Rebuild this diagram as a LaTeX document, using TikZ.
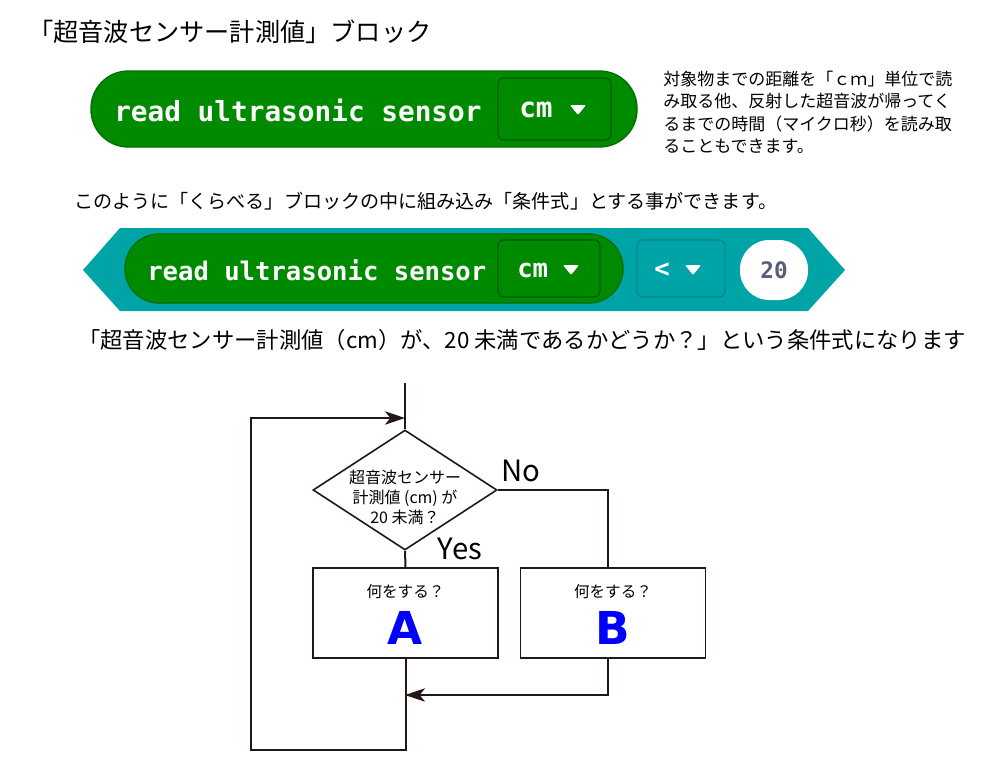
\documentclass[tikz,border=0pt]{standalone}
\usepackage{fontspec}
\usepackage{graphicx}
\setmainfont{Noto Sans CJK JP}
\newfontfamily\jp{Noto Sans CJK JP}
\newfontfamily\blockmono{DejaVu Sans Mono}
\newfontfamily\bigsans{DejaVu Sans}
\usetikzlibrary{shapes.geometric,arrows.meta}
\definecolor{mcgreen}{HTML}{008A00}
\definecolor{mcgreenb}{HTML}{006E00}
\definecolor{mcgreend}{HTML}{005800}
\definecolor{mcteal}{HTML}{00A4A6}
\definecolor{mctealb}{HTML}{00878A}
\definecolor{numtxt}{HTML}{575E75}
\definecolor{ink}{HTML}{231815}
\definecolor{letterblue}{HTML}{0000FF}
\tikzset{
  blocktext/.style={anchor=west, inner sep=0, text=white, font=\blockmono\bfseries\fontsize{#1}{#1}\selectfont},
  ddbox/.style={draw=mcgreend, fill=mcgreen, line width=0.9pt, rounded corners=4.5pt, inner sep=0},
  flowbox/.style={draw=ink, line width=1.2pt, inner sep=0, minimum width=138.75pt, minimum height=67.5pt},
  conn/.style={draw=ink, line width=1.5pt},
  tip/.style={-{Stealth[length=15pt,width=10pt,inset=4pt]}},
  jptext/.style={inner sep=0, font=\jp\fontsize{#1}{#1}\selectfont},
  label/.style={inner sep=0, text=black, font=\jp\fontsize{22}{22}\selectfont},
  bigletter/.style={inner sep=0, text=letterblue, font=\bigsans\bfseries\fontsize{34}{34}\selectfont},
}
\newcommand{\ddtri}[2]{\fill[white, rounded corners=0.8pt] (#1-8,#2-5) -- (#1+8,#2-5) -- (#1,#2+5) -- cycle;}
\begin{document}
\begin{tikzpicture}[x=0.75pt,y=-0.75pt]
\useasboundingbox (0,0) rectangle (1000,768);
\fill[white] (0,0) rectangle (1000,768);

% title
\node[jptext=18.9, anchor=west] (title) at (28,32) {「超音波センサー計測値」ブロック};

% block 1
\node[draw=mcgreenb, fill=mcgreen, line width=1pt, rounded corners=28pt,
      minimum width=409.5pt, minimum height=57pt, inner sep=0] (blk1) at (364,109) {};
\node[ddbox, minimum width=84.75pt, minimum height=46.5pt] (dd1) at (554.5,109) {};
\node[blocktext=20.8] (t1) at (114,110) {read ultrasonic sensor};
\node[blocktext=20.8] (cm1) at (519,110) {cm};
\ddtri{578}{110}

% description
\node[jptext=12.75, anchor=north west, align=left, font=\jp\fontsize{12.75}{16.7}\selectfont] (desc) at (663,71)
  {対象物までの距離を「ｃｍ」単位で読\\み取る他、反射した超音波が帰ってく\\るまでの時間（マイクロ秒）を読み取\\ることもできます。};

% sentence 2
\node[jptext=14.3, anchor=west] (s2) at (74,201) {このように「くらべる」ブロックの中に組み込み「条件式」とする事ができます。};

% block 2
\fill[mcteal] (83,270) -- (120,228) -- (808,228) -- (845,270) -- (808,311) -- (120,311) -- cycle;
\node[draw=mcgreenb, fill=mcgreen, line width=1pt, rounded corners=25.5pt,
      minimum width=373.5pt, minimum height=51.75pt, inner sep=0] (blk2) at (374,268.5) {};
\node[ddbox, minimum width=76.5pt, minimum height=42.75pt] (dd2) at (549,268.5) {};
\node[blocktext=19.2] (t2) at (147,270) {read ultrasonic sensor};
\node[blocktext=19.2] (cm2) at (517,270) {cm};
\ddtri{571}{270}
\node[draw=mctealb, fill=mcteal, line width=0.9pt, rounded corners=4.5pt, inner sep=0,
      minimum width=66pt, minimum height=42.75pt] (op) at (681,268.5) {};
\node[blocktext=19.2, anchor=center] (lt) at (662,270) {<};
\ddtri{693}{270}
\node[fill=white, rounded corners=22pt, inner sep=0,
      minimum width=51pt, minimum height=45pt] (num) at (774,270) {};
\node[blocktext=17, anchor=center, text=numtxt] (n20) at (774,270) {20};

% sentence 3
\node[jptext=16.75, anchor=west] (s3) at (78,340) {「超音波センサー計測値（cm）が、20 未満であるかどうか？」という条件式になります};

% flowchart
\coordinate (top) at (405,383);
\coordinate (merge) at (405,418);
\coordinate (lb) at (251,750);
\coordinate (ret) at (405,695);
\node[diamond, draw=ink, line width=1.2pt, minimum width=138pt, minimum height=90pt, inner sep=0] (dia) at (405,490) {};
\node[align=center, inner sep=0, font=\jp\fontsize{12}{15}\selectfont] (diat) at (405,497) {超音波センサー\\計測値 (cm) が\\20 未満？};
\node[flowbox] (A) at (405.5,613) {};
\node[flowbox] (B) at (613,613) {};
\node[jptext=11.7] (qa) at (405.5,592) {何をする？};
\node[jptext=11.7] (qb) at (613,592) {何をする？};
\node[bigletter] (la) at (405.5,628) {A};
\node[bigletter] (lbB) at (613,628) {B};
\node[label] (no) at (521,471) {No};
\node[label] (yes) at (460,549) {Yes};

\draw[conn] (top) -- (dia.north);
\draw[conn] (dia.south) -- (A.north);
\draw[conn] (dia.east) -| ([xshift=-3.75pt]B.north);
\draw[conn, tip] ([xshift=-3.75pt]B.south) |- (ret);
\draw[conn, tip] (A.south) |- (lb) |- (merge);
\end{tikzpicture}
\end{document}
